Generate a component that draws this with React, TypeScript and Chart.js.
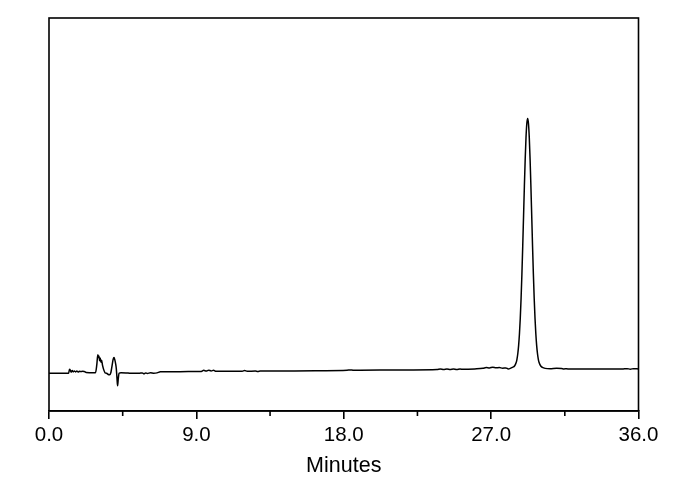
import React, { useEffect, useRef } from "react";
import { Chart, registerables } from "chart.js";

Chart.register(...registerables);

// Retention time (minutes) and detector signal (arbitrary units)
const times: number[] = [
  0.0, 0.6, 1.2, 1.25, 1.3, 1.35, 1.42, 1.48, 1.55, 1.62, 1.7, 1.78, 1.85, 1.95, 2.05, 2.15, 2.27, 2.5,
  2.84, 2.92, 2.98, 3.02, 3.05, 3.09, 3.13, 3.17, 3.21, 3.27, 3.35, 3.42, 3.52, 3.62, 3.7, 3.78, 3.85,
  3.92, 3.97, 4.02, 4.07, 4.11, 4.15, 4.19, 4.23, 4.28, 4.4, 4.7, 5.0, 5.5, 5.7, 5.8, 5.9, 6.0, 6.2,
  6.4, 6.6, 6.8, 7.5, 8.5, 9.3, 9.45, 9.6, 9.75, 9.9, 10.05, 10.2, 11.0, 11.8, 11.95, 12.1, 12.6,
  12.75, 12.9, 13.7, 15.0, 16.5, 18.2, 18.4, 18.6, 19.0, 20.5, 22.0, 23.7, 23.9, 24.1, 24.3, 24.5,
  24.7, 24.9, 25.1, 25.3, 26.0, 26.5, 26.7, 26.9, 27.1, 27.3, 27.5, 27.7, 27.9, 28.05, 28.2,
  28.33, 28.43, 28.53, 28.58, 28.63, 28.68, 28.73, 28.78, 28.83, 28.88, 28.93, 28.98, 29.03, 29.08,
  29.13, 29.18, 29.23, 29.28, 29.33, 29.38, 29.43, 29.48, 29.53, 29.58, 29.63, 29.68, 29.73, 29.78,
  29.83, 29.88, 29.93, 30.03, 30.13, 30.3, 30.6, 31.0, 31.3, 31.45, 31.6, 31.8, 33.0, 35.0, 35.3,
  35.5, 35.7, 36.0,
];

const signal: number[] = [
  9.59, 9.6, 9.62, 10.6, 10.4, 9.9, 10.3, 9.95, 10.2, 9.95, 10.15, 9.9, 10.1, 10.05, 10.1, 10.05, 9.8, 9.76,
  9.75, 11.8, 14.3, 13.6, 14.0, 12.8, 13.5, 12.4, 12.9, 11.6, 10.4, 9.75, 9.6, 9.3, 9.25, 9.8, 11.5,
  13.2, 13.6, 13.0, 12.0, 10.8, 8.5, 6.4, 8.2, 9.6, 9.75, 9.7, 9.6, 9.6, 9.7, 9.5, 9.7, 9.55, 9.72,
  9.6, 9.7, 9.98, 10.0, 10.02, 10.05, 10.35, 10.15, 10.4, 10.2, 10.35, 10.1, 10.1, 10.12, 10.32, 10.12, 10.15,
  10.05, 10.15, 10.18, 10.2, 10.25, 10.36, 10.45, 10.36, 10.38, 10.42, 10.45, 10.55, 10.7, 10.55, 10.7, 10.55,
  10.68, 10.55, 10.7, 10.6, 10.7, 10.85, 11.05, 10.95, 11.15, 11.0, 11.05, 10.9, 10.95, 10.7, 10.9,
  11.17, 11.45, 12.33, 13.22, 14.63, 16.7, 19.64, 23.61, 28.69, 34.84, 41.91, 49.5, 57.07, 63.99,
  69.56, 73.16, 74.43, 73.16, 69.56, 63.99, 57.07, 49.5, 41.91, 34.84, 28.69, 23.61, 19.64, 16.7,
  14.63, 13.22, 12.33, 11.45, 11.1, 10.85, 10.75, 10.85, 10.8, 10.7, 10.75, 10.68, 10.68, 10.68, 10.78,
  10.65, 10.78, 10.69,
];

const majorTicks: number[] = [0, 9, 18, 27, 36];
const minorTicks: number[] = [4.5, 13.5, 22.5, 31.5];
const xTitle = "Minutes";

const FONT = "'Liberation Sans', Arial, sans-serif";

const framePlugin = {
  id: "frame",
  afterDraw(chart: any) {
    const { ctx, chartArea: a, scales } = chart;
    const xs = scales.x;
    ctx.save();
    ctx.strokeStyle = "#000";
    ctx.lineWidth = 1.6;
    ctx.strokeRect(a.left, a.top, a.right - a.left, a.bottom - a.top);
    minorTicks.forEach((v) => {
      const px = xs.getPixelForValue(v);
      ctx.beginPath();
      ctx.moveTo(px, a.bottom);
      ctx.lineTo(px, a.bottom + 5);
      ctx.stroke();
    });
    ctx.restore();
  },
};

export default function App() {
  const ref = useRef<HTMLCanvasElement | null>(null);

  useEffect(() => {
    if (!ref.current) return;
    const points = times.map((t, i) => ({ x: t, y: signal[i] }));
    const chart = new Chart(ref.current, {
      type: "line",
      data: {
        datasets: [
          {
            data: points,
            borderColor: "#000",
            borderWidth: 1.5,
            pointRadius: 0,
            cubicInterpolationMode: "monotone",
            fill: false,
            borderJoinStyle: "round",
            borderCapStyle: "round",
          },
        ],
      },
      options: {
        responsive: false,
        animation: false,
        layout: { padding: { left: 49, right: 51.5, top: 18, bottom: 0 } },
        plugins: { legend: { display: false }, tooltip: { enabled: false } },
        scales: {
          x: {
            type: "linear",
            min: 0,
            max: 36,
            afterBuildTicks: (scale: any) => {
              scale.ticks = majorTicks.map((v) => ({ value: v }));
            },
            afterFit: (scale: any) => {
              scale.height = 79;
            },
            ticks: {
              color: "#000",
              font: { family: FONT, size: 20.5 },
              padding: 4,
              maxRotation: 0,
              autoSkip: false,
              callback: (v: any) => Number(v).toFixed(1),
            },
            grid: {
              display: true,
              drawOnChartArea: false,
              drawTicks: true,
              tickLength: 8,
              color: "#000",
              lineWidth: 1.6,
            },
            border: { display: true, color: "#000", width: 1.6 },
            title: {
              display: true,
              text: xTitle,
              color: "#000",
              font: { family: FONT, size: 21.5 },
              padding: { top: 0, bottom: 11 },
            },
          },
          y: {
            type: "linear",
            min: 0,
            max: 100,
            display: false,
          },
        },
      },
      plugins: [framePlugin],
    });
    return () => chart.destroy();
  }, []);

  return (
    <div style={{ position: "fixed", left: 0, top: 0, width: 690, height: 490, background: "#fff" }}>
      <canvas ref={ref} width={690} height={490} />
    </div>
  );
}
